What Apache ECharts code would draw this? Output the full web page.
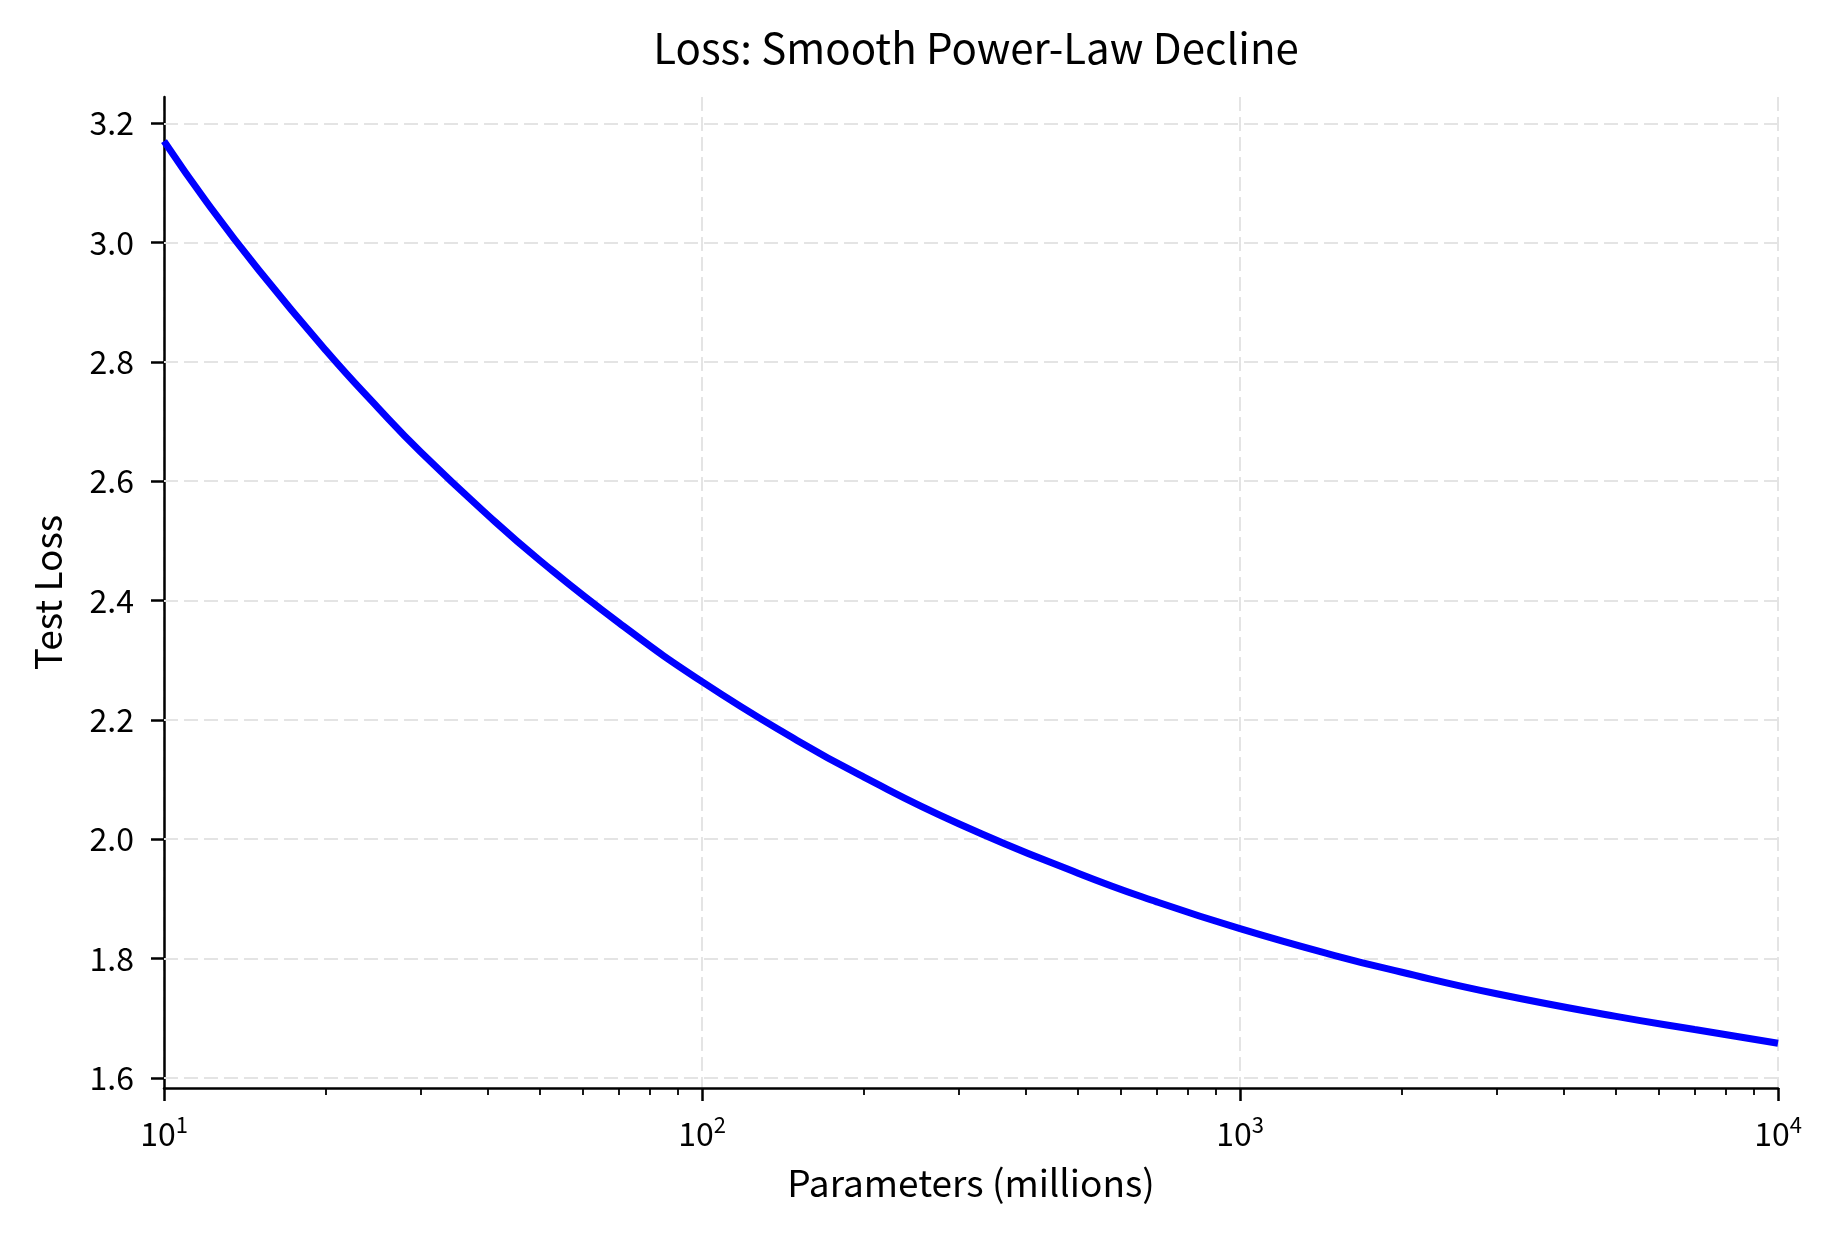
<!DOCTYPE html>
<html>
<head>
<meta charset="utf-8">
<script src="https://cdn.jsdelivr.net/npm/echarts@6/dist/echarts.min.js"></script>
<style>
html,body{margin:0;padding:0;background:#fff;}
#chart{width:1834px;height:1234px;}
</style>
</head>
<body>
<div id="chart"></div>
<script>
// Data
const paramsMillions = [10, 12, 15, 20, 25, 30, 40, 50, 70, 100, 150, 200, 300, 500, 700, 1000, 1500, 2000, 3000, 5000, 7000, 10000];
const testLoss = [3.170, 3.068, 2.954, 2.819, 2.723, 2.649, 2.543, 2.467, 2.363, 2.264, 2.166, 2.104, 2.026, 1.943, 1.895, 1.850, 1.805, 1.777, 1.741, 1.703, 1.681, 1.658];
const yTicks = [1.6, 1.8, 2.0, 2.2, 2.4, 2.6, 2.8, 3.0, 3.2];
const xMajorTicks = [10, 100, 1000, 10000];
const xMinorTicks = [20,30,40,50,60,70,80,90,200,300,400,500,600,700,800,900,2000,3000,4000,5000,6000,7000,8000,9000];

const FONT = '"Noto Sans CJK KR", "Noto Sans", sans-serif';
const chart = echarts.init(document.getElementById('chart'), null, {renderer: 'canvas'});

const gridStyle = {color: '#e4e4e4', width: 2, type: [14, 6]};

chart.setOption({
  backgroundColor: '#ffffff',
  animation: false,
  title: {
    text: 'Loss: Smooth Power-Law Decline',
    left: 971, top: 22, textAlign: 'center',
    textStyle: {fontFamily: FONT, fontSize: 42, fontWeight: 'normal', color: '#000'}
  },
  grid: {left: 164, right: 56, top: 97, bottom: 146, containLabel: false},
  xAxis: [{
    type: 'log', logBase: 10, min: 10, max: 10000,
    name: 'Parameters (millions)', nameLocation: 'middle', nameGap: 76,
    nameTextStyle: {fontFamily: FONT, fontSize: 37, color: '#000'},
    axisLine: {show: true, lineStyle: {color: '#000', width: 2.5}},
    axisTick: {show: true, length: 13, lineStyle: {color: '#000', width: 2.5}},
    axisLabel: {
      margin: 26, color: '#000', fontFamily: FONT, fontSize: 32,
      formatter: function (v) {
        const e = Math.round(Math.log10(v));
        return '{b|10}{s|' + e + '}';
      },
      rich: {
        b: {fontFamily: FONT, fontSize: 32, color: '#000', lineHeight: 40},
        s: {fontFamily: FONT, fontSize: 22, color: '#000', verticalAlign: 'top', lineHeight: 40, padding: [0, 0, 12, 0]}
      }
    },
    splitLine: {show: true, lineStyle: gridStyle}
  }, {
    type: 'log', logBase: 10, min: 10, max: 10000, position: 'bottom',
    axisLine: {show: false},
    axisLabel: {show: false},
    splitLine: {show: false},
    axisTick: {show: true, length: 7, customValues: xMinorTicks, lineStyle: {color: '#000', width: 1.8}}
  }],
  yAxis: {
    type: 'value', min: 1.583, max: 3.244,
    name: 'Test Loss', nameLocation: 'middle', nameGap: 98,
    nameTextStyle: {fontFamily: FONT, fontSize: 37, color: '#000'},
    axisLine: {show: true, lineStyle: {color: '#000', width: 2.5}},
    axisTick: {show: true, length: 13, customValues: yTicks, lineStyle: {color: '#000', width: 2.5}},
    axisLabel: {
      customValues: yTicks, margin: 30, color: '#000', fontFamily: FONT, fontSize: 32,
      formatter: function (v) { return v.toFixed(1); }
    },
    splitLine: {show: false}
  },
  series: [{
    type: 'line',
    data: paramsMillions.map((n, i) => [n, testLoss[i]]),
    smooth: true,
    showSymbol: false,
    lineStyle: {color: '#0000ff', width: 7},
    z: 5,
    markLine: {
      silent: true, symbol: 'none', label: {show: false},
      lineStyle: gridStyle,
      z: 1,
      data: yTicks.map(t => ({yAxis: t}))
    }
  }]
});
</script>
</body>
</html>
